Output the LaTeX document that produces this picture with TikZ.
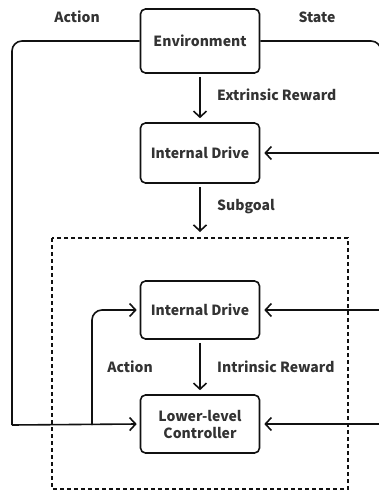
\documentclass[tikz,border=0pt]{standalone}
\usepackage{fontspec}
\setmainfont{Noto Sans CJK SC}
\usetikzlibrary{arrows.meta}
\definecolor{txt}{HTML}{333333}
\definecolor{ln}{HTML}{111111}
\tikzset{
  box/.style={draw=ln, line width=1.6pt, rounded corners=5pt, minimum width=119pt, align=center, text=txt, font=\fontsize{14}{16}\selectfont\bfseries, inner sep=0pt},
  lbl/.style={text=txt, font=\fontsize{14}{16}\selectfont\bfseries, inner sep=0pt},
  conn/.style={draw=ln, line width=1.6pt},
  arr/.style={conn, -{Straight Barb[length=6pt,width=13pt,line width=1.6pt]}},
}
\begin{document}
\begin{tikzpicture}[x=1pt,y=-1pt]
\useasboundingbox (0,0) rectangle (378,493);
\node[box, minimum height=64pt] (env) at (200,41) {Environment};
\node[box, minimum height=60pt] (id1) at (200,153) {Internal Drive};
\node[box, minimum height=58pt] (id2) at (200,310) {Internal Drive};
\node[box, minimum height=58pt] (llc) at (200,424) {Lower-level\\[1pt]Controller};
\draw[conn, dashed, dash pattern=on 4pt off 3pt, line width=1.4pt] (52,238) rectangle (348,489);

\node[lbl] (la) at (77,17) {Action};
\node[lbl] (ls) at (317,17) {State};
\node[lbl, anchor=west] (ler) at (217,95) {Extrinsic Reward};
\node[lbl, anchor=west] (lsg) at (217,207) {Subgoal};
\node[lbl, anchor=west] (lir) at (217,367) {Intrinsic Reward};
\node[lbl] (la2) at (130,367) {Action};

\coordinate (lt) at (12,41);
\coordinate (lb) at (12,425);
\coordinate (rt) at (381,41);
\coordinate (rb) at (381,424);
\coordinate (r1) at (381,153);
\coordinate (r2) at (381,310);
\coordinate (br) at (92,425);
\coordinate (bt) at (92,310);

\draw[conn, rounded corners=10pt] (env.west) -- (lt) -- (lb);
\draw[arr] (lb) -- ([xshift=-3pt]llc.west);
\draw[conn, rounded corners=10pt] (env.east) -- (rt) -- (rb);
\draw[arr] (r1) -- ([xshift=4pt]id1.east);
\draw[arr] (r2) -- ([xshift=4pt]id2.east);
\draw[arr] (rb) -- ([xshift=4pt]llc.east);
\draw[arr, rounded corners=10pt] (br) -- (bt) -- ([xshift=-3pt]id2.west);
\draw[arr] ([yshift=-3pt]env.south) -- ([yshift=4pt]id1.north);
\draw[arr] ([yshift=-3pt]id1.south) -- (200,232);
\draw[arr] ([yshift=-3pt]id2.south) -- ([yshift=4pt]llc.north);
\end{tikzpicture}
\end{document}
